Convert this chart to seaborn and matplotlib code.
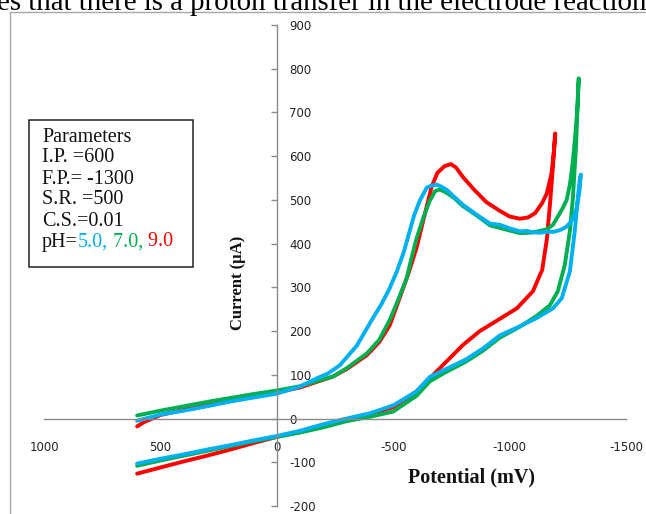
import matplotlib
matplotlib.use("Agg")
import matplotlib.pyplot as plt
from matplotlib.patches import Rectangle
from matplotlib.text import Annotation
import pandas as pd
import seaborn as sns

# Cyclic voltammograms: forward sweep 600 -> switching potential, then return sweep.
ph_labels = ["9.0", "7.0", "5.0"]
ph_colors = ["#FF0000", "#00B050", "#00B0F0"]

red_potential = [600, 500, 400, 300, 200, 100, 0, -100, -200, -300, -400, -500,
                 -600, -657, -713, -799, -872, -958, -1031, -1100, -1140, -1160,
                 -1175, -1188, -1196,
                 -1190, -1180, -1160, -1140, -1110, -1080, -1044, -1000, -958,
                 -900, -850, -800, -770, -747, -720, -690, -665, -644, -600,
                 -563, -485, -440, -387, -300, -241, -150, -100, 0, 100, 200,
                 300, 400, 500, 570, 600]
red_current = [-126, -112, -98, -85, -71, -56, -42, -30, -15, -2, 10, 26,
               62, 92, 122, 168, 200, 228, 252, 291, 340, 410,
               500, 590, 652,
               610, 560, 515, 493, 470, 460, 457, 462, 475,
               495, 522, 552, 574, 582, 577, 562, 530, 485, 390,
               328, 213, 175, 145, 113, 96, 80, 71, 60, 50, 40,
               30, 20, 8, -8, -18]

green_potential = [600, 500, 400, 300, 200, 100, 0, -100, -200, -300, -400, -500,
                   -600, -657, -722, -812, -885, -958, -1044, -1117, -1173, -1207,
                   -1237, -1259, -1272, -1285, -1297,
                   -1290, -1280, -1270, -1259, -1245, -1229, -1205, -1186, -1160,
                   -1130, -1090, -1044, -1000, -958, -915, -870, -830, -799, -760,
                   -730, -700, -680, -657, -630, -601, -580, -558, -520, -485,
                   -440, -387, -300, -241, -150, -100, 0, 100, 200, 300, 400,
                   500, 600]
green_current = [-108, -96, -85, -74, -63, -52, -42, -32, -20, -6, 4, 16,
                 52, 85, 105, 130, 155, 185, 210, 235, 259, 291,
                 351, 429, 505, 620, 778,
                 700, 635, 580, 535, 500, 482, 460, 443, 433,
                 429, 425, 424, 430, 436, 442, 460, 475, 486, 505,
                 516, 524, 520, 498, 460, 413, 370, 321, 270, 225,
                 180, 149, 115, 96, 82, 74, 64, 56, 47, 38, 28,
                 18, 7]

cyan_potential = [600, 500, 400, 300, 200, 100, 0, -100, -200, -300, -400, -500,
                  -600, -657, -722, -812, -885, -958, -1044, -1117, -1186, -1224,
                  -1259, -1280, -1293, -1300, -1306,
                  -1300, -1289, -1275, -1259, -1240, -1216, -1190, -1160, -1130,
                  -1100, -1074, -1044, -1000, -958, -915, -870, -830, -799, -760,
                  -730, -700, -687, -660, -644, -614, -590, -571, -545, -516,
                  -485, -450, -412, -344, -271, -220, -172, -99, 0, 100, 200,
                  300, 400, 500, 600]
cyan_current = [-103, -92, -82, -71, -61, -50, -40, -28, -13, 0, 12, 30,
                62, 95, 112, 135, 160, 190, 211, 230, 252, 275,
                337, 429, 505, 540, 558,
                520, 482, 460, 447, 437, 431, 427, 427, 425,
                426, 429, 428, 435, 443, 446, 462, 477, 489, 508,
                523, 532, 535, 532, 528, 498, 465, 429, 380, 337,
                298, 262, 229, 167, 122, 103, 92, 73, 57, 48, 39,
                28, 18, 9, -5]

x_ticks = [1000, 500, 0, -500, -1000, -1500]
x_tick_labels = ["1000", "500", "0", "-500", "-1000", "-1500"]
y_ticks = [-200, -100, 0, 100, 200, 300, 400, 500, 600, 700, 800, 900]
y_tick_labels = ["-200", "-100", "0", "100", "200", "300", "400", "500",
                 "600", "700", "800", "900"]

param_lines = ["Parameters", "I.P. =600", "F.P.= -1300", "S.R. =500", "C.S.=0.01"]

frames = []
for ph, pot, cur in [("9.0", red_potential, red_current),
                     ("7.0", green_potential, green_current),
                     ("5.0", cyan_potential, cyan_current)]:
    frames.append(pd.DataFrame({"potential": pot, "current": cur, "pH": ph}))
df = pd.concat(frames, ignore_index=True)

sns.set_style("white")
plt.rcParams["font.family"] = ["DejaVu Sans"]

W, H = 646, 514
fig = plt.figure(figsize=(W / 100, H / 100), dpi=100)


def fx(px):
    return px / W


def fy(py):
    return 1 - py / H


ax = fig.add_axes([fx(44), 8 / H, 582 / W, 481 / H])
ax.set_facecolor("none")

sns.lineplot(data=df, x="potential", y="current", hue="pH", sort=False,
             estimator=None, palette=dict(zip(ph_labels, ph_colors)),
             hue_order=ph_labels, linewidth=2.8, legend=False, ax=ax)
for line in ax.get_lines():
    line.set_solid_joinstyle("round")
    line.set_solid_capstyle("round")

ax.set_xlim(1000, -1500)
ax.set_ylim(-200, 900)

# Axes cross at the origin; y labels sit to the right of the vertical axis
axis_grey = "#8a8a8a"
for side in ["top", "left"]:
    ax.spines[side].set_visible(False)
ax.spines["bottom"].set_position(("data", 0))
ax.spines["right"].set_position(("data", 0))
for side in ["bottom", "right"]:
    ax.spines[side].set_color(axis_grey)
    ax.spines[side].set_linewidth(1.0)

ax.yaxis.tick_right()
ax.set_xticks(x_ticks)
ax.set_xticklabels(x_tick_labels)
ax.set_yticks(y_ticks)
ax.set_yticklabels(y_tick_labels)
ax.tick_params(axis="x", direction="out", length=4, width=1, color=axis_grey,
               pad=12, labelsize=8.5, labelcolor="#222222")
ax.tick_params(axis="y", direction="in", length=4, width=1, color=axis_grey,
               pad=9, labelsize=8.5, labelcolor="#222222")
for lbl in ax.get_yticklabels():
    lbl.set_horizontalalignment("left")
ax.set_xlabel("")
ax.set_ylabel("")

serif = ["Liberation Serif", "DejaVu Serif"]

# Axis titles
fig.text(fx(238), fy(283), "Current (μA)", rotation=90, ha="center", va="center",
         family=serif, fontweight="bold", fontsize=12, color="#111111")
fig.text(fx(471), fy(477), "Potential (mV)", ha="center", va="center",
         family=serif, fontweight="bold", fontsize=14.5, color="#111111")

# Chart frame
fig.add_artist(Rectangle((fx(10), fy(H + 20)), fx(W + 20), (H + 8) / H,
                         transform=fig.transFigure, fill=False,
                         edgecolor="#a6a6a6", linewidth=1.0))

# Surrounding document line
fig.text(fx(-3), fy(10), "es that there is a proton transfer in the electrode reaction",
         ha="left", va="baseline", family=serif, fontsize=20.8, color="black")

# Parameter box
fig.add_artist(Rectangle((fx(29), fy(267)), fx(193 - 29), (267 - 120) / H,
                         transform=fig.transFigure, facecolor="white",
                         edgecolor="#222222", linewidth=1.1))
box_font = 14.5
line_y = [138, 158, 179, 200, 221]
for text, yy in zip(param_lines, line_y):
    fig.text(fx(42), fy(yy), text, ha="left", va="center", family=serif,
             fontsize=box_font, color="#111111")

# pH line with each value in its curve colour
prev = fig.text(fx(42), fy(242), "pH=", ha="left", va="center", family=serif,
                fontsize=box_font, color="#111111")
for piece, col in [("5.0,", ph_colors[2]), (" 7.0,", ph_colors[1]), (" 9.0", ph_colors[0])]:
    prev = fig.add_artist(Annotation(piece, xy=(1, 0), xycoords=prev,
                                     ha="left", va="bottom", family=serif,
                                     fontsize=box_font, color=col))

fig.savefig("out.png", dpi=100)
